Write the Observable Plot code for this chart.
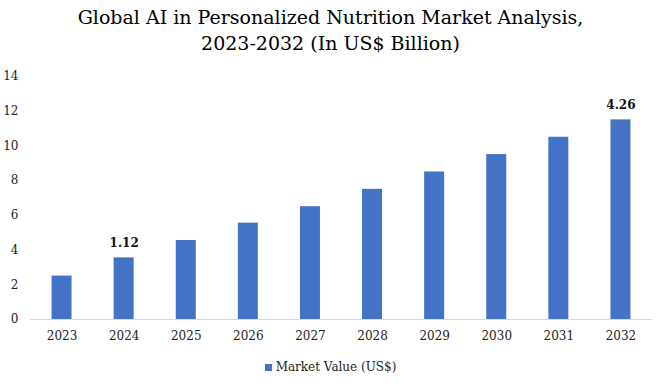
<!DOCTYPE html>
<html>
<head>
<meta charset="utf-8">
<script src="https://cdn.jsdelivr.net/npm/d3@7"></script>
<script src="https://cdn.jsdelivr.net/npm/@observablehq/plot@0.6"></script>
<style>
  html, body { margin: 0; padding: 0; background: #fff; }
  body { width: 661px; height: 387px; overflow: hidden; font-family: "DejaVu Serif", serif; }
  #title { text-align: center; font-size: 19px; line-height: 26px; color: #000; padding-top: 4px; height: 57px; box-sizing: border-box; }
  #legend { display: flex; justify-content: center; align-items: center; font-size: 12px; color: #222; height: 30px; }
  #legend .sw { width: 7px; height: 7px; background: #4472C4; margin-right: 4px; }
</style>
</head>
<body>
<div id="title">Global AI in Personalized Nutrition Market Analysis,<br>2023-2032 (In US$ Billion)</div>
<div id="chart"></div>
<div id="legend"><span class="sw"></span><span>Market Value (US$)</span></div>
<script>
const years = ["2023","2024","2025","2026","2027","2028","2029","2030","2031","2032"];
const values = [2.5, 3.55, 4.55, 5.55, 6.5, 7.5, 8.5, 9.5, 10.5, 11.5];
const yTicks = [0, 2, 4, 6, 8, 10, 12, 14];
const labelYears = ["2024", "2032"];
const labelTexts = ["1.12", "4.26"];

const data = years.map((y, i) => ({year: y, value: values[i]}));
const labels = labelYears.map((y, i) => ({year: y, value: values[years.indexOf(y)], text: labelTexts[i]}));

const chart = Plot.plot({
  width: 661,
  height: 295,
  marginLeft: 30,
  marginRight: 9,
  marginTop: 19,
  marginBottom: 33,
  style: {fontFamily: "DejaVu Serif, serif", fontSize: "12px", color: "#222", background: "#fff"},
  x: {domain: years, paddingInner: 0.678, paddingOuter: 0.347, round: false, label: null, tickSize: 0, tickPadding: 12},
  y: {domain: [0, 14], ticks: yTicks, label: null, tickSize: 0, tickPadding: 12},
  marks: [
    Plot.barY(data, {x: "year", y: "value", fill: "#4472C4"}),
    Plot.ruleY([0], {stroke: "#d9d9d9", strokeWidth: 1}),
    Plot.text(labels, {x: "year", y: "value", text: "text", dy: -15, fontWeight: "bold", fontSize: 12, fill: "#111"})
  ]
});
document.getElementById("chart").appendChild(chart);
</script>
</body>
</html>
